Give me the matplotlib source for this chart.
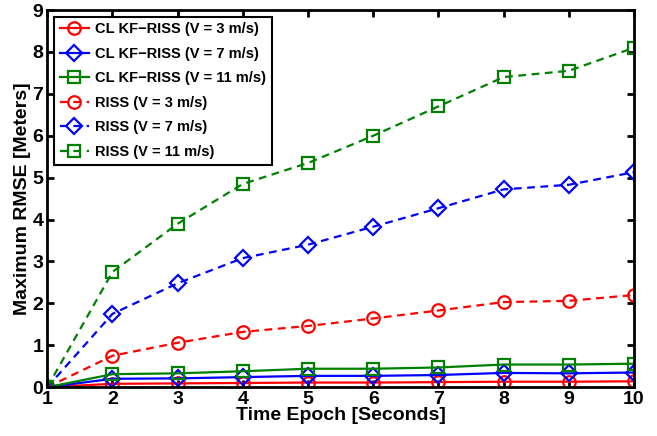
import matplotlib
matplotlib.use("Agg")
import matplotlib.pyplot as plt

plt.rcParams['font.family'] = ['Liberation Sans', 'DejaVu Sans']
plt.rcParams['font.weight'] = 'bold'

epochs = [1, 2, 3, 4, 5, 6, 7, 8, 9, 10]

# closed-loop KF-RISS
cl_v3 = [0, 0.08, 0.09, 0.10, 0.11, 0.11, 0.12, 0.13, 0.13, 0.14]
cl_v7 = [0, 0.20, 0.21, 0.24, 0.27, 0.27, 0.29, 0.34, 0.33, 0.35]
cl_v11 = [0, 0.31, 0.33, 0.38, 0.44, 0.44, 0.47, 0.54, 0.54, 0.56]

# RISS only
riss_v3 = [0, 0.75, 1.06, 1.32, 1.46, 1.64, 1.83, 2.03, 2.06, 2.20]
riss_v7 = [0, 1.75, 2.48, 3.08, 3.40, 3.83, 4.27, 4.72, 4.83, 5.13]
riss_v11 = [0, 2.75, 3.90, 4.85, 5.35, 6.00, 6.70, 7.40, 7.55, 8.10]

labels = ['CL KF\u2212RISS (V = 3 m/s)', 'CL KF\u2212RISS (V = 7 m/s)',
          'CL KF\u2212RISS (V = 11 m/s)', 'RISS (V = 3 m/s)',
          'RISS (V = 7 m/s)', 'RISS (V = 11 m/s)']

green = (0, 0.5, 0)
dash = (0, (3.5, 2.5))
fig = plt.figure(figsize=(6.57, 4.36), dpi=100)
ax = fig.add_axes([0.072, 0.112, 0.893, 0.865])

kw = dict(markerfacecolor='none', markersize=9, markeredgewidth=1.6, linewidth=1.6)
dkw = {**kw, 'markersize': 8}
ax.plot(epochs, cl_v3, marker='o', ls='-', color='red', label=labels[0], **kw)
ax.plot(epochs, cl_v7, marker='D', ls='-', color='blue', label=labels[1], **dkw)
ax.plot(epochs, cl_v11, marker='s', ls='-', color=green, label=labels[2], **kw)
ax.plot(epochs, riss_v3, marker='o', ls=dash, color='red', label=labels[3], **kw)
ax.plot(epochs, riss_v7, marker='D', ls=dash, color='blue', label=labels[4], **dkw)
ax.plot(epochs, riss_v11, marker='s', ls=dash, color=green, label=labels[5], **kw)

ax.set_xlim(1, 10)
ax.set_ylim(0, 9)
ax.set_xticks(epochs)
ax.set_yticks(range(0, 10))
ax.tick_params(direction='in', top=True, right=True, labelsize=14, width=2, length=5, pad=3)
for s in ax.spines.values():
    s.set_linewidth(2)
ax.set_xlabel('Time Epoch [Seconds]', fontsize=14, fontweight='bold', labelpad=-1)
ax.set_ylabel('Maximum RMSE [Meters]', fontsize=14, fontweight='bold', labelpad=1)

leg = ax.legend(loc='upper left', fontsize=10.5, fancybox=False, framealpha=1,
                edgecolor='black', borderaxespad=0.45, handlelength=2.0,
                handletextpad=0.4, labelspacing=0.72)
leg.get_frame().set_linewidth(1.5)

fig.savefig('out.png', dpi=100)
